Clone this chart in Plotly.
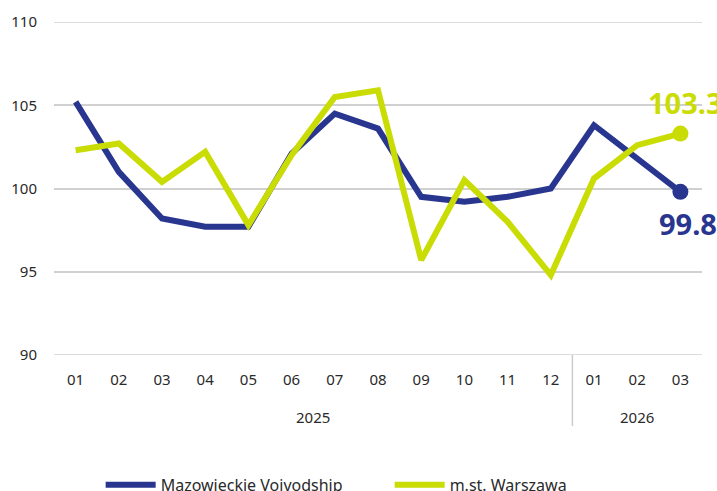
import plotly.graph_objects as go

months = ["01", "02", "03", "04", "05", "06", "07", "08", "09", "10", "11", "12", "01", "02", "03"]
years = ["2025", "2026"]
year_counts = [12, 3]

mazowieckie = [105.2, 101.0, 98.2, 97.7, 97.7, 102.1, 104.5, 103.6, 99.5, 99.2, 99.5, 100.0, 103.8, 101.8, 99.8]
warszawa = [102.3, 102.7, 100.4, 102.2, 97.8, 102.0, 105.5, 105.9, 95.7, 100.5, 98.0, 94.8, 100.6, 102.6, 103.3]

y_ticks = [90, 95, 100, 105, 110]

BLUE = "#29368f"
GREEN = "#c9dc04"
FONT = "Noto Sans"
TXT = "#2a2a2a"
GRID = "#d0d0d0"

x = list(range(len(months)))

fig = go.Figure()
fig.add_trace(go.Scatter(
    x=x, y=mazowieckie, mode="lines", name="Mazowieckie Voivodship",
    line=dict(color=BLUE, width=6), cliponaxis=False))
fig.add_trace(go.Scatter(
    x=x, y=warszawa, mode="lines", name="m.st. Warszawa",
    line=dict(color=GREEN, width=6), cliponaxis=False))
# end markers
fig.add_trace(go.Scatter(
    x=[x[-1]], y=[mazowieckie[-1]], mode="markers", showlegend=False,
    marker=dict(color=BLUE, size=16), cliponaxis=False))
fig.add_trace(go.Scatter(
    x=[x[-1]], y=[warszawa[-1]], mode="markers", showlegend=False,
    marker=dict(color=GREEN, size=16), cliponaxis=False))

fig.add_annotation(x=x[-1], y=warszawa[-1], text=f"<b>{warszawa[-1]:.1f}</b>",
                   showarrow=False, yshift=31, xshift=5,
                   font=dict(family=FONT, size=29, color=GREEN))
fig.add_annotation(x=x[-1], y=mazowieckie[-1], text=f"<b>{mazowieckie[-1]:.1f}</b>",
                   showarrow=False, yshift=-32, xshift=8,
                   font=dict(family=FONT, size=29, color=BLUE))

# gridlines at the range edges (plotly omits them at the exact boundaries)
for v in (y_ticks[0], y_ticks[-1]):
    fig.add_shape(type="line", xref="paper", yref="y", x0=0, x1=1, y0=v, y1=v,
                  line=dict(color=GRID, width=1.5), layer="below")

# year group labels and divider
start = 0
for yr, cnt in zip(years, year_counts):
    center = start + (cnt - 1) / 2
    fig.add_annotation(x=center, y=0, xref="x", yref="paper", yshift=-74,
                       text=yr, showarrow=False,
                       font=dict(family=FONT, size=15, color=TXT))
    start += cnt
    if start < len(months):
        fig.add_shape(type="line", xref="x", yref="paper",
                      x0=start - 0.5, x1=start - 0.5, y0=0, y1=-0.213,
                      line=dict(color="#cccccc", width=1.5))

fig.update_layout(
    width=717, height=491,
    margin=dict(l=54, r=15, t=22, b=136, autoexpand=False),
    paper_bgcolor="white", plot_bgcolor="white",
    font=dict(family=FONT, size=15, color=TXT),
    legend=dict(orientation="h", x=0.072, xanchor="left", y=-0.39, yanchor="middle",
                font=dict(family=FONT, size=16, color=TXT),
                entrywidth=224, entrywidthmode="pixels", itemwidth=50),
    showlegend=True,
)
fig.update_xaxes(
    range=[-0.5, len(months) - 0.5], tickvals=x, ticktext=months,
    showgrid=False, zeroline=False, showline=False,
    ticks="outside", ticklen=11, tickcolor="rgba(0,0,0,0)",
    tickfont=dict(family=FONT, size=15, color=TXT))
fig.update_yaxes(
    range=[90, 110], tickvals=y_ticks,
    showgrid=True, gridcolor=GRID, gridwidth=1.5, zeroline=False, showline=False,
    ticks="outside", ticklen=13, tickcolor="rgba(0,0,0,0)",
    tickfont=dict(family=FONT, size=15, color=TXT))

fig.write_html("out.html", config={"displayModeBar": False},
               post_script="document.body.style.margin='0';")
